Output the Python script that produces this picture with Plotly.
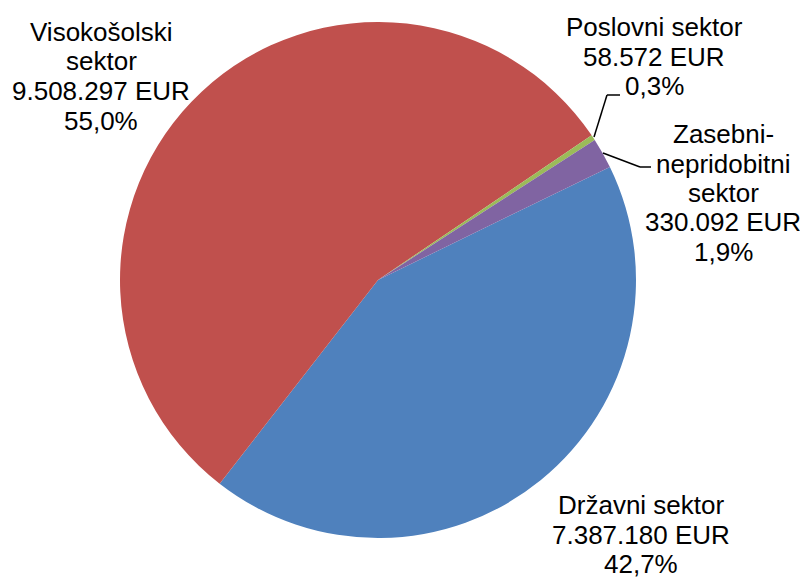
import plotly.graph_objects as go

W, H = 808, 578
OFF = 8  # the page puts the figure 8px in from the top-left corner
FW, FH = W - OFF, H - OFF
FONT = "Liberation Sans, Arial, sans-serif"

sectors = ["Državni sektor", "Visokošolski sektor", "Poslovni sektor",
           "Zasebni-nepridobitni sektor"]
label_lines = [["Državni sektor"], ["Visokošolski", "sektor"],
               ["Poslovni sektor"], ["Zasebni-", "nepridobitni", "sektor"]]
amounts = [7387180, 9508297, 58572, 330092]
colors = ["#4F81BD", "#C0504D", "#9BBB59", "#8064A2"]

# label block: centre x and first line y (page pixels)
label_pos = [(641, 505), (101, 32), (654, 27), (723, 134)]
LINE_GAP = 29.5


def px(x, y):
    return (x - OFF) / FW, 1 - (y - OFF) / FH


def fmt_eur(v):
    return f"{v:,}".replace(",", ".") + " EUR"


total = sum(amounts)

fig = go.Figure(go.Pie(
    labels=sectors, values=amounts,
    marker=dict(colors=colors, line=dict(width=0)),
    sort=False, direction="clockwise", rotation=64,
    textinfo="none", hoverinfo="label+value+percent",
    showlegend=False,
    domain=dict(x=[(120 - OFF) / FW, (636 - OFF) / FW],
                y=[1 - (538 - OFF) / FH, 1 - (22 - OFF) / FH]),
))

for lines, val, (lx, ly) in zip(label_lines, amounts, label_pos):
    pct = f"{val / total * 100:.1f}".replace(".", ",") + "%"
    for i, t in enumerate(lines + [fmt_eur(val), pct]):
        x, y = px(lx, ly + i * LINE_GAP)
        fig.add_annotation(
            x=x, y=y, xref="paper", yref="paper", showarrow=False,
            text=t, font=dict(family=FONT, size=26, color="black"),
            xanchor="center", yanchor="middle",
        )

# leader lines for the two thin slices
leaders = [
    [(594, 137), (607, 95), (620, 95)],
    [(603, 153), (640, 167), (651, 167)],
]
for pts in leaders:
    for (x0, y0), (x1, y1) in zip(pts[:-1], pts[1:]):
        a, b = px(x0, y0)
        c, d = px(x1, y1)
        fig.add_shape(type="line", xref="paper", yref="paper",
                      x0=a, y0=b, x1=c, y1=d,
                      line=dict(color="black", width=1.5))

fig.update_layout(
    width=FW, height=FH,
    margin=dict(l=0, r=0, t=0, b=0),
    paper_bgcolor="white", plot_bgcolor="white",
    font=dict(family=FONT),
)

fig.write_html("out.html")
